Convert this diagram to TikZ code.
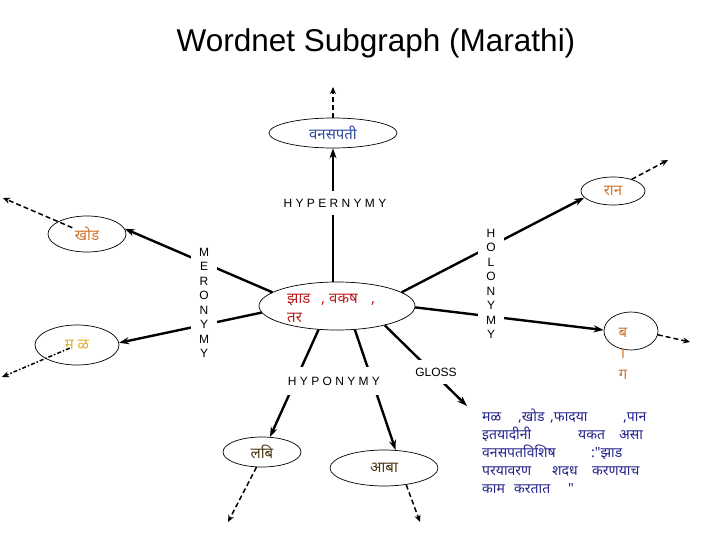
\documentclass[tikz,border=0pt]{standalone}
\usepackage{fontspec}
\setmainfont{Liberation Sans}
\newfontfamily\marfont[Script=Devanagari]{Noto Sans}
\newfontfamily\marplain{Noto Sans}
\usetikzlibrary{arrows.meta, shapes.geometric, positioning, calc}
\definecolor{synblue}{RGB}{45, 75, 160}
\definecolor{synorange}{RGB}{205, 115, 45}
\definecolor{synyellow}{RGB}{225, 175, 50}
\definecolor{synred}{RGB}{185, 30, 30}
\definecolor{synbrown}{RGB}{75, 55, 20}
\definecolor{glossblue}{RGB}{35, 35, 140}

\begin{document}
\begin{tikzpicture}[x=1pt, y=-1pt,
	syn/.style={draw, ellipse, inner sep=0pt, line width=0.7pt, font=\marfont\fontsize{15}{17}\selectfont},
	rel/.style={line width=2.4pt, -{Stealth[length=10pt, width=7pt]}},
	more/.style={line width=1.5pt, dash pattern=on 5pt off 3pt, -{Stealth[length=7pt, width=6pt]}},
	tag/.style={fill=white, inner sep=8pt, font=\fontsize{12}{14.5}\selectfont},
	vtag/.style={tag, inner ysep=2pt, align=center},
	gloss/.style={anchor=base west, inner sep=0pt, text=glossblue, font=\marfont\fontsize{14}{16}\selectfont}
]
	\useasboundingbox (0,0) rectangle (720,540);
	\node[font=\fontsize{31.5}{36}\selectfont, anchor=base] (title) at (376,52) {Wordnet Subgraph (Marathi)};

	% synsets
	\node[syn, minimum width=128, minimum height=30, text=synblue] (ban) at (333,133) {वनसपती};
	\node[syn, minimum width=64, minimum height=28, text=synorange] (ran) at (613,191) {रान};
	\node[syn, minimum width=78, minimum height=36, text=synorange] (khod) at (87,234) {खोड};
	\node[syn, minimum width=84, minimum height=40, text=synyellow] (mal) at (77,345) {म ळ};
	\node[syn, minimum width=156, minimum height=48] (zad) at (337,306) {};
	\node[syn, minimum width=78, minimum height=30, text=synbrown] (limb) at (262,452) {लबि};
	\node[syn, minimum width=108, minimum height=36, text=synbrown] (amba) at (384,468) {आबा};
	\node[syn, minimum width=54, minimum height=38] (bag) at (631,331) {};
	\node[anchor=north west, inner sep=0pt, align=left, text=synred, font=\marfont\fontsize{15}{19}\selectfont] (zadt) at (287,294)
		{\makebox[34pt][l]{झाड}\makebox[8pt][l]{,}\makebox[42pt][l]{वकष},\\तर};
	\node[anchor=north, inner sep=0pt, align=center, text=synorange, font=\marfont\fontsize{15}{21}\selectfont] (bagt) at (623,328)
		{ब\\{\marplain ा}\\ग};

	% relations
	\draw[rel] (ban.south |- zad.north) -- (ban);
	\draw[rel] (zad.168) -- (khod.8);
	\draw[rel] (zad.185) -- (mal.3);
	\draw[rel] (zad.12) -- (ran.193);
	\draw[rel] (zad.-1) -- (bag.178);
	\draw[rel] (zad.232) -- (limb.62);
	\draw[rel] (zad.307) -- (amba.57);
	\coordinate (gl) at (467,406);
	\draw[rel] (zad.338) -- (gl);

	% links going on
	\coordinate (up) at (333,87);
	\coordinate (ranout) at (668,160);
	\coordinate (khodout) at (3,198);
	\coordinate (malout) at (2,377);
	\coordinate (limbout) at (228,522);
	\coordinate (ambaout) at (420,522);
	\coordinate (bagout) at (690,342);
	\draw[more] (ban.north) -- (up);
	\draw[more] (ran.32) -- (ranout);
	\draw[more, shorten <=16pt] (khod.center) -- (khodout);
	\draw[more, dash pattern=on 4pt off 2pt on 1.5pt off 2pt, shorten <=8pt] (mal.center) -- (malout);
	\draw[more] (limb.250) -- (limbout);
	\draw[more] (amba.-37) -- (ambaout);
	\draw[more] (bag.-8) -- (bagout);

	% relation names
	\node[tag] (hyper) at (335,203) {H Y P E R N Y M Y};
	\node[tag, inner ysep=10pt] (hypo) at (334,381) {H Y P O N Y M Y};
	\node[tag] (glosstag) at (436,372) {GLOSS};
	\node[vtag] (mero) at (204,303) {M\\E\\R\\O\\N\\Y\\M\\Y};
	\node[vtag] (holo) at (491,284) {H\\O\\L\\O\\N\\Y\\M\\Y};

	% gloss
	\node[gloss] (gl1) at (482,421) {\makebox[36pt][l]{मळ}\makebox[32pt][l]{,खोड}\makebox[73pt][l]{,फादया},पान};
	\node[gloss] (gl2) at (482,439) {\makebox[96pt][l]{इतयादीनी}\makebox[41pt][l]{यकत}असा};
	\node[gloss] (gl3) at (482,457) {\makebox[109pt][l]{वनसपतविशिष}:"झाड};
	\node[gloss] (gl4) at (482,475) {\makebox[70pt][l]{परयावरण}\makebox[40pt][l]{शदध}करणयाच};
	\node[gloss] (gl5) at (482,493) {\makebox[32pt][l]{काम}\makebox[54pt][l]{करतात}"};
\end{tikzpicture}
\end{document}
